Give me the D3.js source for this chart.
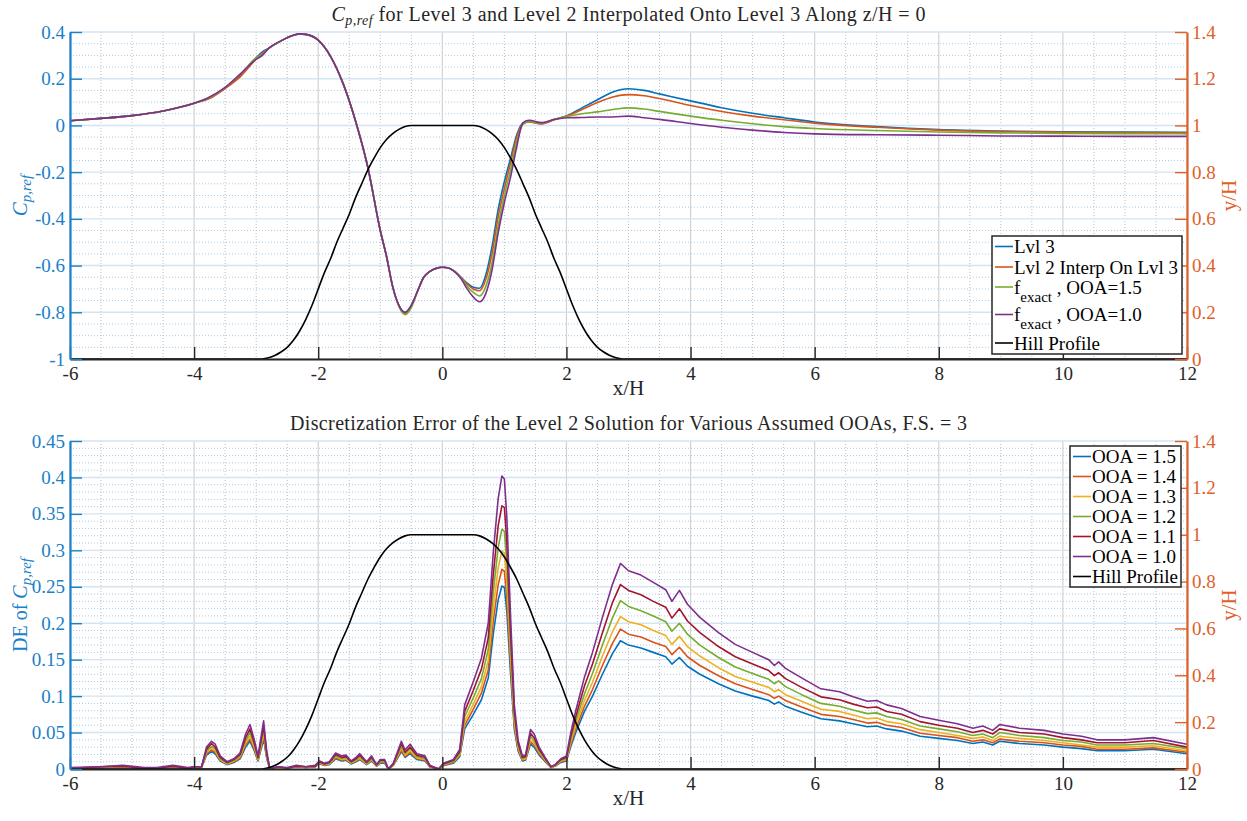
<!DOCTYPE html>
<html>
<head>
<meta charset="utf-8">
<script src="https://cdn.jsdelivr.net/npm/d3@7"></script>
<style>
body { margin: 0; background: #fff; }
svg text { font-family: 'Liberation Serif', 'Times New Roman', serif; }
</style>
</head>
<body>
<div id="chart"></div>
<script>
// ---- data ----
const hillX = [-6,-2.9,-2.8,-2.7,-2.6,-2.5,-2.4,-2.3,-2.2,-2.1,-2.0,-1.9,-1.8,-1.7,-1.6,-1.5,-1.4,-1.3,-1.2,-1.1,-1.0,-0.9,-0.8,-0.7,-0.6,-0.5,
  0.5,0.6,0.7,0.8,0.9,1.0,1.1,1.2,1.3,1.4,1.5,1.6,1.7,1.8,1.9,2.0,2.1,2.2,2.3,2.4,2.5,2.6,2.7,2.8,2.9,12];
const hillY = [0,0,0.005,0.015,0.03,0.05,0.08,0.12,0.17,0.23,0.30,0.37,0.43,0.50,0.56,0.62,0.69,0.75,0.81,0.86,0.905,0.94,0.965,0.983,0.995,1.0,
  1.0,0.995,0.983,0.965,0.94,0.905,0.86,0.81,0.75,0.69,0.62,0.56,0.50,0.43,0.37,0.30,0.23,0.17,0.12,0.08,0.05,0.03,0.015,0.005,0,0];

const cpX = [-6,-5.5,-5,-4.5,-4,-3.75,-3.5,-3.25,-3,-2.9,-2.8,-2.6,-2.4,-2.3,-2.2,-2,-1.8,-1.6,-1.4,-1.2,
  -1,-0.9,-0.8,-0.7,-0.6,-0.5,-0.4,-0.3,-0.2,-0.1,0,0.1,0.2,0.3,0.4,0.5,0.6,0.7,0.8,0.9,
  1,1.1,1.2,1.3,1.4,1.6,1.8,2,2.25,2.5,2.75,3,3.25,3.5,4,4.5,5,5.5,6,7,8,9,10,11,12];
const cpLvl3 = [0.02,0.03,0.042,0.062,0.095,0.12,0.16,0.215,0.29,0.315,0.33,0.362,0.386,0.392,0.39,0.365,0.295,0.18,0.02,-0.18,
  -0.45,-0.56,-0.69,-0.77,-0.80,-0.77,-0.71,-0.65,-0.625,-0.612,-0.607,-0.61,-0.625,-0.65,-0.675,-0.693,-0.697,-0.64,-0.52,-0.36,
  -0.24,-0.14,-0.04,0.01,0.015,0.008,0.025,0.04,0.075,0.11,0.143,0.157,0.15,0.135,0.105,0.076,0.052,0.033,0.015,-0.005,-0.018,-0.024,-0.027,-0.028,-0.029];
const cpLvl2 = [0.02,0.03,0.042,0.062,0.095,0.115,0.158,0.21,0.285,0.31,0.33,0.362,0.386,0.392,0.39,0.365,0.295,0.18,0.02,-0.18,
  -0.45,-0.56,-0.69,-0.772,-0.805,-0.775,-0.71,-0.65,-0.625,-0.612,-0.607,-0.61,-0.625,-0.65,-0.68,-0.70,-0.708,-0.66,-0.55,-0.39,
  -0.27,-0.16,-0.05,0.008,0.015,0.006,0.024,0.04,0.068,0.098,0.122,0.132,0.127,0.115,0.085,0.06,0.04,0.024,0.01,-0.008,-0.02,-0.026,-0.029,-0.031,-0.032];
const cpOOA15 = [0.02,0.03,0.042,0.062,0.095,0.118,0.162,0.22,0.29,0.305,0.33,0.362,0.386,0.392,0.39,0.365,0.295,0.18,0.02,-0.18,
  -0.45,-0.56,-0.69,-0.775,-0.81,-0.78,-0.71,-0.65,-0.625,-0.612,-0.607,-0.61,-0.625,-0.652,-0.69,-0.715,-0.73,-0.69,-0.59,-0.43,
  -0.30,-0.19,-0.07,0.005,0.016,0.01,0.026,0.038,0.05,0.058,0.068,0.075,0.07,0.06,0.04,0.022,0.007,-0.005,-0.013,-0.022,-0.028,-0.032,-0.034,-0.035,-0.036];
const cpOOA10 = [0.02,0.03,0.042,0.062,0.095,0.122,0.163,0.222,0.283,0.30,0.33,0.362,0.386,0.392,0.39,0.365,0.295,0.18,0.02,-0.18,
  -0.45,-0.56,-0.69,-0.77,-0.80,-0.77,-0.71,-0.65,-0.625,-0.612,-0.607,-0.61,-0.627,-0.655,-0.70,-0.735,-0.755,-0.72,-0.62,-0.46,
  -0.33,-0.22,-0.09,0.012,0.022,0.012,0.025,0.033,0.034,0.036,0.036,0.04,0.033,0.026,0.008,-0.008,-0.02,-0.03,-0.036,-0.04,-0.042,-0.045,-0.046,-0.047,-0.047];

const deX = [-6,-5.5,-5.15,-4.8,-4.6,-4.34,-4.1,-4,-3.88,-3.8,
  -3.72,-3.66,-3.58,-3.47,-3.36,-3.26,-3.17,-3.1,-3.03,-2.97,
  -2.88,-2.83,-2.78,-2.65,-2.5,-2.35,-2.2,-2.05,-1.98,-1.9,
  -1.82,-1.72,-1.62,-1.55,-1.47,-1.39,-1.33,-1.22,-1.14,-1.06,
  -1,-0.93,-0.87,-0.79,-0.66,-0.6,-0.52,-0.41,-0.28,-0.2,
  -0.06,0.02,0.18,0.28,0.36,0.5,0.63,0.74,0.82,0.9,
  0.96,1,1.04,1.1,1.16,1.22,1.29,1.34,1.42,1.48,
  1.56,1.67,1.75,1.82,1.91,2,2.07,2.15,2.29,2.42,
  2.58,2.74,2.87,3,3.2,3.4,3.6,3.7,3.82,3.95,
  4.15,4.45,4.72,5,5.26,5.35,5.42,5.53,5.79,6.1,
  6.4,6.62,6.85,7,7.16,7.4,7.7,8,8.3,8.55,
  8.71,8.87,8.98,9.3,9.7,10,10.3,10.55,11,11.46,
  12];
const de15 = [.001,.002,.003,.001,.001,.003,.001,.002,.002,.019,
  .024,.021,.011,.006,.009,.014,.030,.038,.025,.011,
  .041,.015,0,.002,.001,.003,.002,.003,.007,.005,
  .006,.014,.011,.012,.007,.010,.013,.006,.011,.004,
  .008,.008,0,.005,.024,.016,.021,.013,.011,.003,
  0,.005,.008,.017,.055,.075,.095,.125,.185,.232,
  .251,.249,.215,.130,.055,.025,.011,.012,.034,.030,
  .019,.009,.002,.004,.009,.011,.031,.050,.079,.100,
  .130,.158,.176,.170,.166,.160,.154,.144,.153,.141,
  .130,.117,.107,.100,.094,.089,.092,.086,.078,.069,
  .066,.062,.058,.059,.055,.052,.045,.042,.039,.035,
  .037,.033,.038,.035,.033,.030,.028,.025,.025,.027,
  .021];
const de14 = [.001,.002,.003,.001,.001,.003,.001,.002,.002,.021,
  .026,.023,.012,.007,.010,.015,.033,.041,.027,.012,
  .045,.016,0,.002,.001,.003,.002,.003,.008,.005,
  .007,.015,.012,.013,.008,.011,.014,.007,.012,.004,
  .009,.009,0,.005,.026,.017,.023,.014,.012,.003,
  0,.005,.009,.019,.060,.082,.104,.136,.202,.253,
  .274,.271,.234,.142,.060,.027,.012,.013,.037,.033,
  .021,.010,.002,.004,.010,.012,.034,.055,.086,.109,
  .142,.172,.192,.185,.181,.174,.168,.157,.167,.154,
  .142,.128,.117,.109,.102,.097,.100,.094,.085,.075,
  .072,.068,.063,.064,.060,.057,.049,.046,.043,.038,
  .040,.036,.041,.038,.036,.033,.031,.027,.027,.029,
  .023];
const de13 = [.001,.002,.004,.001,.001,.004,.001,.002,.002,.023,
  .029,.025,.013,.007,.011,.017,.036,.045,.030,.013,
  .049,.018,0,.002,.001,.004,.002,.004,.008,.006,
  .007,.017,.013,.014,.008,.012,.015,.007,.013,.005,
  .010,.010,0,.006,.029,.019,.025,.015,.013,.004,
  0,.006,.010,.020,.065,.089,.113,.149,.220,.276,
  .299,.296,.256,.155,.065,.030,.013,.014,.040,.036,
  .023,.011,.002,.005,.011,.013,.037,.060,.094,.119,
  .155,.188,.209,.202,.198,.190,.183,.171,.182,.168,
  .155,.139,.127,.119,.112,.106,.109,.102,.093,.082,
  .079,.074,.069,.070,.065,.062,.054,.050,.046,.042,
  .044,.039,.045,.042,.039,.036,.033,.030,.030,.032,
  .025];
const de12 = [.001,.003,.004,.001,.001,.004,.001,.003,.003,.025,
  .031,.028,.014,.008,.012,.018,.039,.050,.033,.014,
  .054,.020,0,.003,.001,.004,.003,.004,.009,.007,
  .008,.018,.014,.016,.009,.013,.017,.008,.014,.005,
  .010,.010,0,.007,.031,.021,.028,.017,.014,.004,
  0,.007,.010,.022,.072,.098,.124,.164,.242,.304,
  .329,.326,.282,.170,.072,.033,.014,.016,.045,.039,
  .025,.012,.003,.005,.012,.014,.041,.066,.103,.131,
  .170,.207,.231,.223,.217,.210,.202,.189,.200,.185,
  .170,.153,.140,.131,.123,.117,.121,.113,.102,.090,
  .086,.081,.076,.077,.072,.068,.059,.055,.051,.046,
  .048,.043,.050,.046,.043,.039,.037,.033,.033,.035,
  .028];
const de11 = [.001,.003,.004,.001,.001,.004,.001,.003,.003,.027,
  .035,.030,.016,.009,.013,.020,.043,.055,.036,.016,
  .059,.022,0,.003,.001,.004,.003,.004,.010,.007,
  .009,.020,.016,.017,.010,.014,.019,.009,.016,.006,
  .012,.012,0,.007,.035,.023,.030,.019,.016,.004,
  0,.007,.012,.024,.079,.108,.137,.180,.266,.334,
  .361,.359,.310,.187,.079,.036,.016,.017,.049,.043,
  .027,.013,.003,.006,.013,.016,.045,.072,.114,.144,
  .187,.228,.253,.245,.239,.230,.222,.207,.220,.203,
  .187,.168,.154,.144,.135,.128,.132,.124,.112,.099,
  .095,.089,.084,.085,.079,.075,.065,.060,.056,.050,
  .053,.048,.055,.050,.048,.043,.040,.036,.036,.039,
  .030];
const de10 = [.002,.003,.005,.002,.002,.005,.002,.003,.003,.030,
  .038,.034,.018,.010,.014,.022,.048,.061,.040,.018,
  .066,.024,0,.003,.002,.005,.003,.005,.011,.008,
  .010,.022,.018,.019,.011,.016,.021,.010,.018,.006,
  .013,.013,0,.008,.038,.026,.034,.021,.018,.005,
  0,.008,.013,.027,.088,.120,.152,.200,.296,.371,
  .402,.398,.344,.208,.088,.040,.018,.019,.054,.048,
  .030,.014,.003,.006,.014,.018,.050,.080,.126,.160,
  .208,.253,.282,.272,.266,.256,.246,.230,.245,.226,
  .208,.187,.171,.160,.150,.142,.147,.138,.125,.110,
  .106,.099,.093,.094,.088,.083,.072,.067,.062,.056,
  .059,.053,.061,.056,.053,.048,.045,.040,.040,.043,
  .034];

const xTicks = [-6,-4,-2,0,2,4,6,8,10,12];
const cpTicks = [-1,-0.8,-0.6,-0.4,-0.2,0,0.2,0.4];
const deTicks = [0,0.05,0.1,0.15,0.2,0.25,0.3,0.35,0.4,0.45];
const yhTicks = [0,0.2,0.4,0.6,0.8,1,1.2,1.4];

// ---- styling ----
const SERIF = "'Liberation Serif', 'Times New Roman', serif";
const INK = "#262626";
const LEFTC = "#1a80c8", RIGHTC = "#e0602a";
const COL = { blue: "#0072BD", orange: "#D95319", yellow: "#EDB120", purple: "#7E2F8E", green: "#77AC30", red: "#A2142F" };

const svg = d3.select("#chart").append("svg")
  .attr("width", 1247).attr("height", 821)
  .style("background", "#fff");

const x = d3.scaleLinear().domain([-6, 12]).range([70, 1187]);
const fmt = d => String(+d.toFixed(2));

function drawPanel(cfg) {
  const yL = d3.scaleLinear().domain(cfg.leftDomain).range([cfg.bottom, cfg.top]);
  const yR = d3.scaleLinear().domain([0, 1.4]).range([cfg.bottom, cfg.top]);
  const g = svg.append("g");

  // grid: minor first, then major
  const xMinor = d3.range(-6, 12.001, 0.5).filter(v => Math.round(v * 2) % 4 !== 0);
  const nMinor = Math.round((cfg.leftDomain[1] - cfg.leftDomain[0]) / cfg.minorStep);
  const yMinor = d3.range(0, nMinor + 1).map(i => cfg.leftDomain[0] + i * cfg.minorStep)
    .filter(v => !cfg.leftTicks.some(t => Math.abs(t - v) < 1e-9));

  g.append("g").selectAll("line").data(xMinor).join("line")
    .attr("x1", d => x(d)).attr("x2", d => x(d))
    .attr("y1", cfg.top).attr("y2", cfg.bottom)
    .attr("stroke", "#bdbdbd").attr("stroke-width", 1).attr("stroke-dasharray", "1,2");
  g.append("g").selectAll("line").data(yMinor).join("line")
    .attr("x1", 70).attr("x2", 1187)
    .attr("y1", d => yL(d)).attr("y2", d => yL(d))
    .attr("stroke", "#a9cbe8").attr("stroke-width", 1).attr("stroke-dasharray", "1,2");
  g.append("g").selectAll("line").data(xTicks).join("line")
    .attr("x1", d => x(d)).attr("x2", d => x(d))
    .attr("y1", cfg.top).attr("y2", cfg.bottom)
    .attr("stroke", "#d2d2d2").attr("stroke-width", 1.2);
  g.append("g").selectAll("line").data(cfg.leftTicks).join("line")
    .attr("x1", 70).attr("x2", 1187)
    .attr("y1", d => yL(d)).attr("y2", d => yL(d))
    .attr("stroke", "#d3e4f3").attr("stroke-width", 1.4);

  // data lines
  cfg.series.forEach(s => {
    const line = d3.line().x(d => x(d[0])).y(d => yL(d[1]));
    if (cfg.smooth) line.curve(d3.curveMonotoneX);
    g.append("path").datum(d3.zip(s.xs, s.ys))
      .attr("fill", "none").attr("stroke", s.color).attr("stroke-width", 1.6)
      .attr("stroke-linejoin", "round").attr("d", line);
  });
  g.append("path").datum(d3.zip(hillX, hillY))
    .attr("fill", "none").attr("stroke", "#000").attr("stroke-width", 1.6)
    .attr("d", d3.line().x(d => x(d[0])).y(d => yR(d[1])).curve(d3.curveMonotoneX));

  // axes
  const styleAxis = (a, color, w) => {
    a.attr("font-family", null).attr("font-size", null);
    a.select(".domain").attr("stroke", color).attr("stroke-width", w);
    a.selectAll(".tick line").attr("stroke", color).attr("stroke-width", 1.4);
    a.selectAll(".tick text").attr("fill", color)
      .style("font-family", SERIF).style("font-size", "19px");
  };
  g.append("g").attr("transform", `translate(0,${cfg.bottom})`)
    .call(d3.axisBottom(x).tickValues(xTicks).tickFormat(fmt).tickSize(-12).tickSizeOuter(0).tickPadding(8))
    .call(a => styleAxis(a, INK, 2));
  g.append("g").attr("transform", "translate(70,0)")
    .call(d3.axisLeft(yL).tickValues(cfg.leftTicks).tickFormat(fmt).tickSize(-12).tickSizeOuter(0).tickPadding(5))
    .call(a => styleAxis(a, LEFTC, 2.2));
  g.append("g").attr("transform", "translate(1187,0)")
    .call(d3.axisRight(yR).tickValues(yhTicks).tickFormat(fmt).tickSize(-12).tickSizeOuter(0).tickPadding(5))
    .call(a => styleAxis(a, RIGHTC, 2.2));

  // title
  cfg.title(g.append("text").attr("x", 628.5).attr("y", cfg.top - 11)
    .attr("text-anchor", "middle").style("font-size", "20px").attr("fill", INK)
    .attr("textLength", cfg.titleLen).attr("lengthAdjust", "spacing"));

  // axis labels
  g.append("text").attr("x", 628.5).attr("y", cfg.bottom + 36)
    .attr("text-anchor", "middle").style("font-size", "21px").attr("fill", INK)
    .text("x/H");
  const midY = (cfg.top + cfg.bottom) / 2;
  cfg.ylabel(g.append("text").attr("transform", `translate(27,${midY}) rotate(-90)`)
    .attr("text-anchor", "middle").style("font-size", "20px").attr("fill", LEFTC));
  g.append("text").attr("transform", `translate(1236,${midY}) rotate(-90)`)
    .attr("text-anchor", "middle").style("font-size", "21px").attr("fill", RIGHTC)
    .text("y/H");

  // legend
  const L = cfg.legend;
  const lg = g.append("g").attr("fill", "#000");
  lg.append("rect").attr("x", L.x).attr("y", L.y).attr("width", L.w).attr("height", L.h)
    .attr("fill", "#fff").attr("stroke", INK).attr("stroke-width", 1.5);
  L.rows.forEach(r => {
    lg.append("line").attr("x1", L.x + 3).attr("x2", L.x + 21).attr("y1", r.cy).attr("y2", r.cy)
      .attr("stroke", r.color).attr("stroke-width", 1.6);
    const t = lg.append("text").attr("x", L.x + 22).attr("y", r.cy + 6.5).style("font-size", "19px");
    if (r.sub) {
      t.append("tspan").text(r.label);
      t.append("tspan").style("font-size", "15px").attr("dy", 8).text(r.sub);
      t.append("tspan").attr("dy", -8).text(r.rest);
    } else {
      t.text(r.label);
    }
  });
}

function cpref(t, size, small) {
  t.append("tspan").attr("font-style", "italic").style("font-size", size + "px").text("C");
  t.append("tspan").attr("font-style", "italic").style("font-size", small + "px").attr("dy", 4).text("p,ref");
}

drawPanel({
  top: 32, bottom: 359,
  leftDomain: [-1, 0.4], leftTicks: cpTicks, minorStep: 0.05, smooth: true,
  series: [
    { xs: cpX, ys: cpLvl3, color: COL.blue },
    { xs: cpX, ys: cpLvl2, color: COL.orange },
    { xs: cpX, ys: cpOOA15, color: COL.green },
    { xs: cpX, ys: cpOOA10, color: COL.purple }
  ],
  titleLen: 594,
  title: t => {
    cpref(t, 20, 14);
    t.append("tspan").attr("dy", -4).text(" for Level 3 and Level 2 Interpolated Onto Level 3 Along z/H = 0");
  },
  ylabel: t => cpref(t, 21, 15),
  legend: { x: 992, y: 236, w: 190, h: 118, rows: [
    { cy: 246.5, color: COL.blue, label: "Lvl 3" },
    { cy: 267, color: COL.orange, label: "Lvl 2 Interp On Lvl 3" },
    { cy: 287, color: COL.green, label: "f", sub: "exact", rest: " , OOA=1.5" },
    { cy: 314.5, color: COL.purple, label: "f", sub: "exact", rest: " , OOA=1.0" },
    { cy: 343, color: "#000", label: "Hill Profile" }
  ]}
});

drawPanel({
  top: 441, bottom: 769,
  leftDomain: [0, 0.45], leftTicks: deTicks, minorStep: 0.01, smooth: false,
  series: [
    { xs: deX, ys: de15, color: COL.blue },
    { xs: deX, ys: de14, color: COL.orange },
    { xs: deX, ys: de13, color: COL.yellow },
    { xs: deX, ys: de12, color: COL.green },
    { xs: deX, ys: de11, color: COL.red },
    { xs: deX, ys: de10, color: COL.purple }
  ],
  titleLen: 677,
  title: t => t.text("Discretization Error of the Level 2 Solution for Various Assumed OOAs, F.S. = 3"),
  ylabel: t => {
    t.append("tspan").text("DE of ");
    cpref(t, 20, 15);
  },
  legend: { x: 1070, y: 446, w: 111, h: 141, rows: [
    { cy: 456.5, color: COL.blue, label: "OOA = 1.5" },
    { cy: 476.5, color: COL.orange, label: "OOA = 1.4" },
    { cy: 496.5, color: COL.yellow, label: "OOA = 1.3" },
    { cy: 516.5, color: COL.green, label: "OOA = 1.2" },
    { cy: 536.5, color: COL.red, label: "OOA = 1.1" },
    { cy: 556.5, color: COL.purple, label: "OOA = 1.0" },
    { cy: 576.5, color: "#000", label: "Hill Profile" }
  ]}
});
</script>
</body>
</html>
